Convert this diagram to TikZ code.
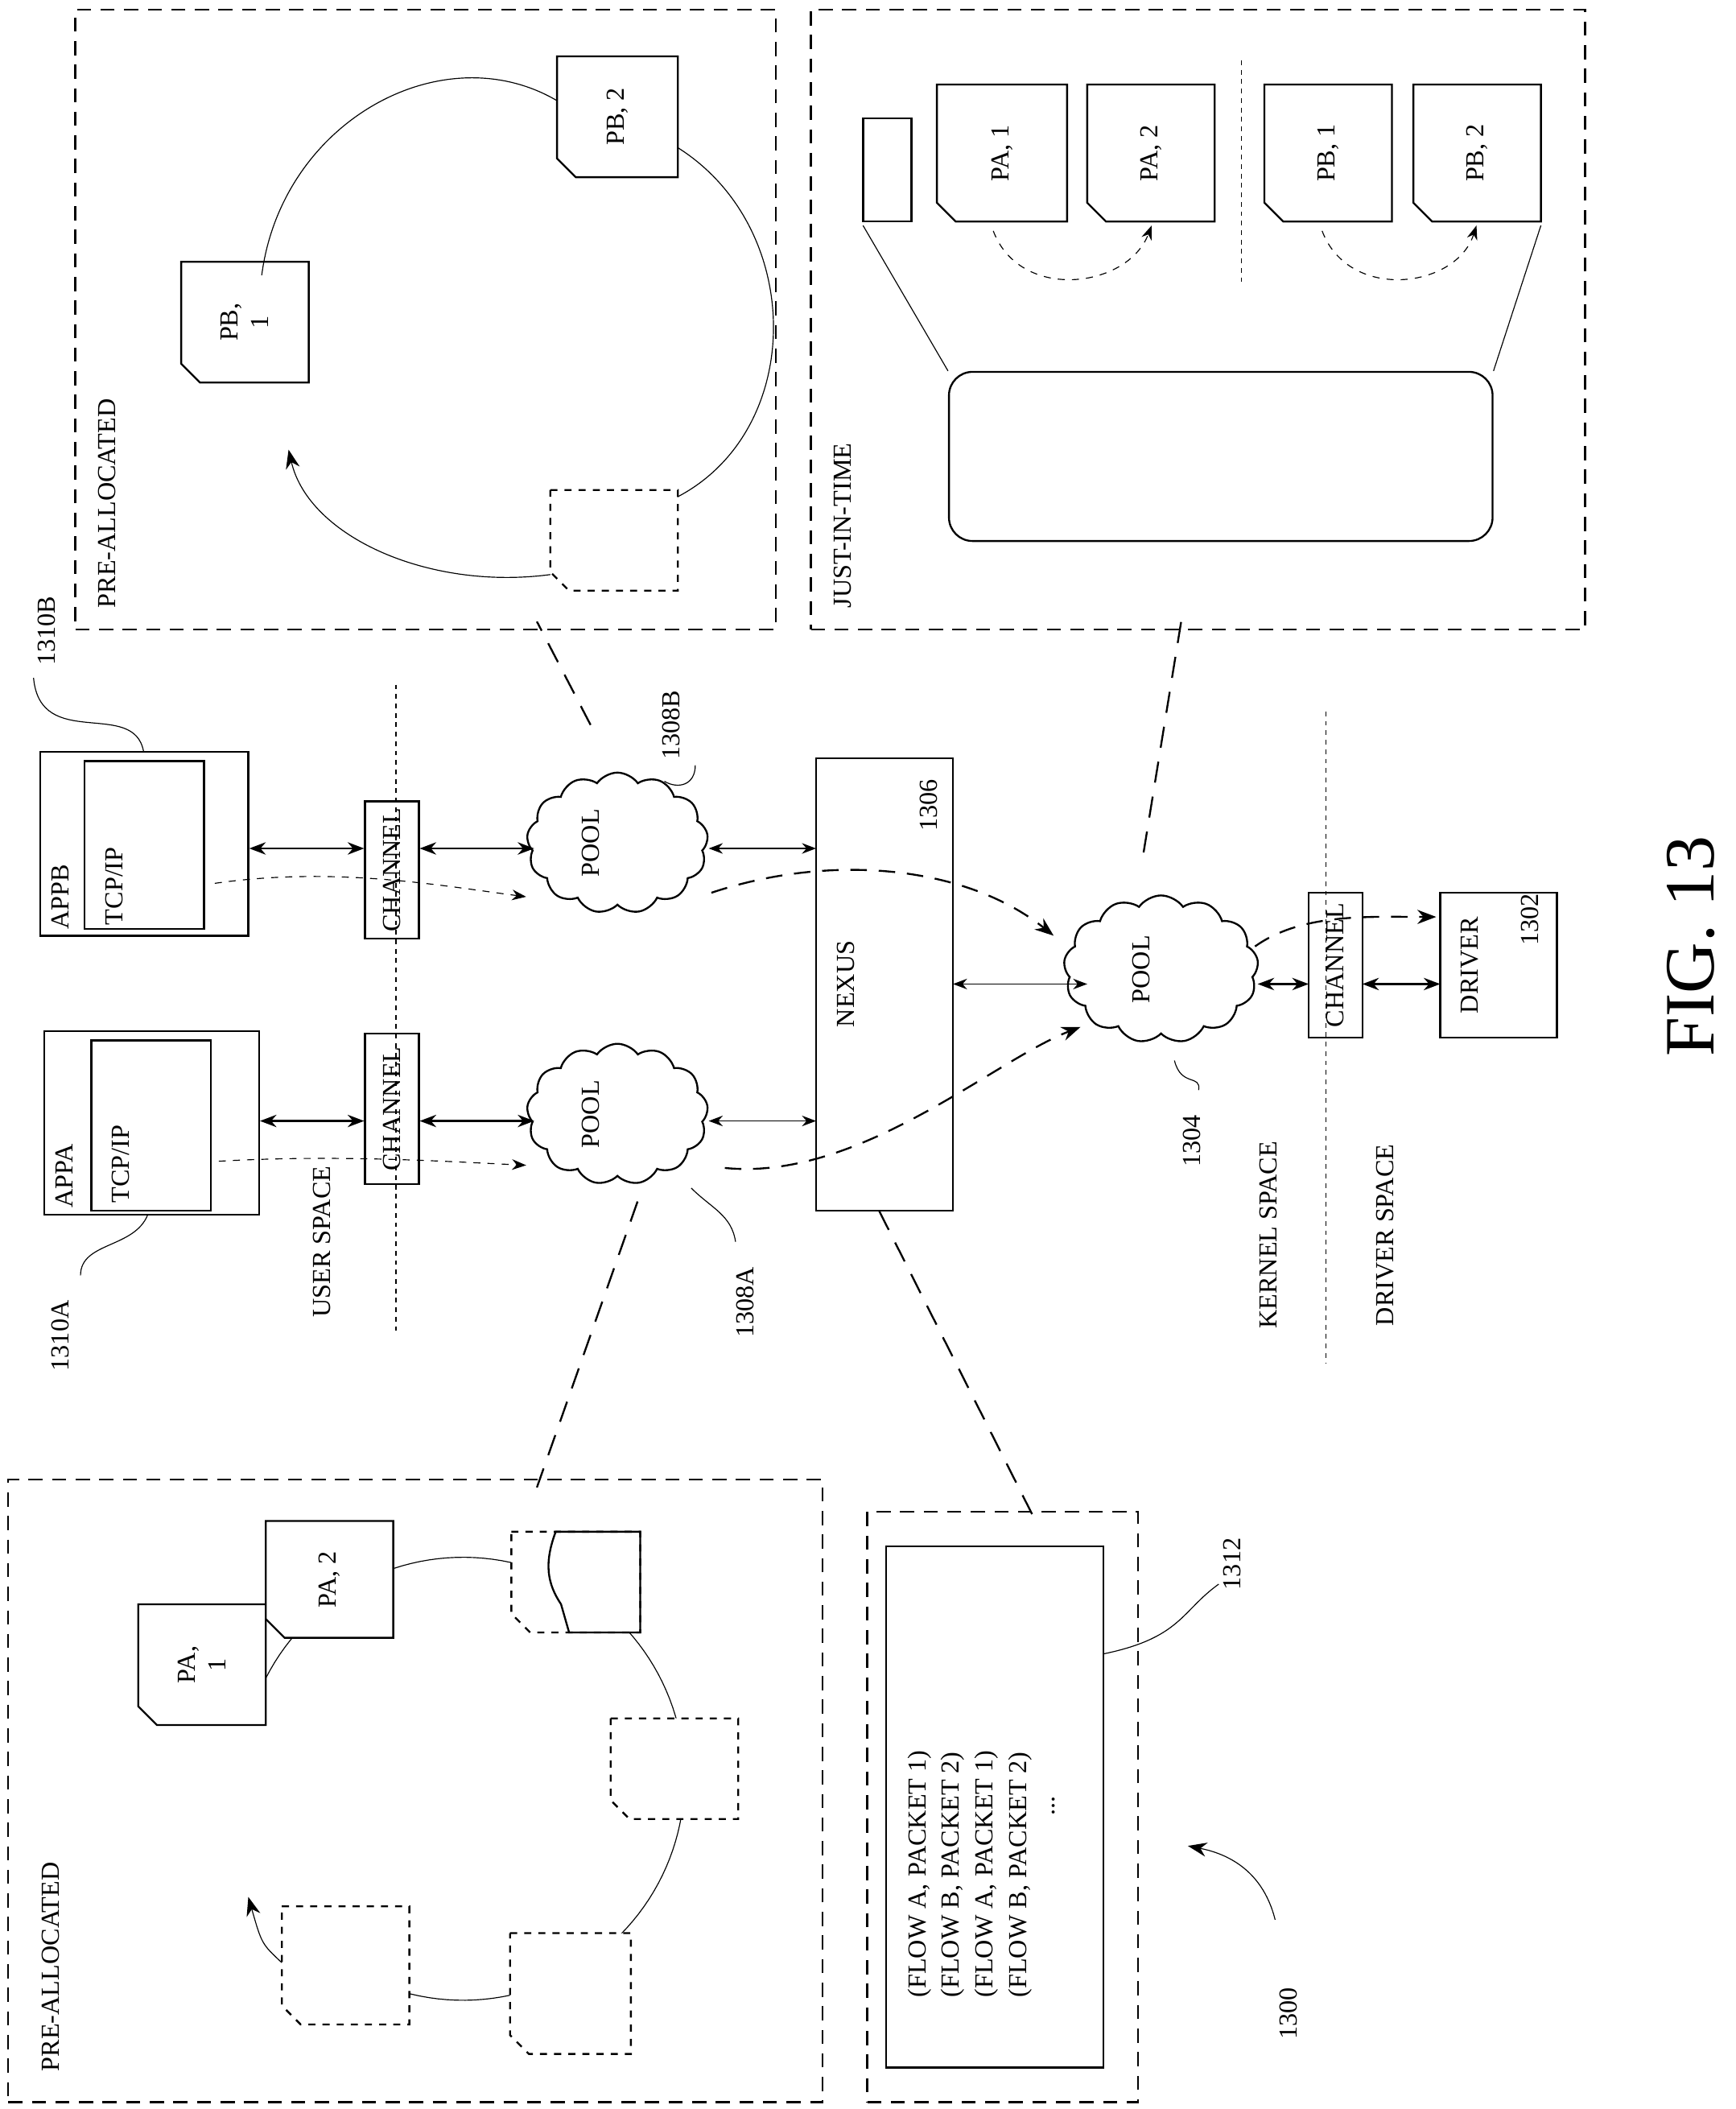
\documentclass[tikz,border=0pt]{standalone}
\usepackage{fontspec}
\setmainfont{Liberation Serif}
\usetikzlibrary{positioning,arrows.meta,shapes.symbols,fit,calc}

\newcommand\pg[6]{% x1 y1 x2 y2 style label
  \draw[#5] (#1,#2) -- (#3,#2) -- (#3,#4) -- ({#1+14},#4) -- (#1,{#4-14}) -- cycle;
  \node[txt, align=center] at ({(#1+#3)/2},{(#2+#4)/2}) {#6};}

\begin{document}
\begin{tikzpicture}[x=0.02cm, y=-0.02cm,
  txt/.style={rotate=90, font=\fontsize{11}{13}\selectfont, inner sep=1pt},
  box/.style={draw, thick, inner sep=0pt},
  region/.style={draw, thick, dashed, dash pattern=on 6pt off 4pt},
  pool/.style={cloud, draw, thick, cloud puffs=13, cloud puff arc=110, aspect=1.3, minimum width=2.7cm, minimum height=2.1cm, inner sep=0pt},
  both/.style={{Stealth[length=7pt]}-{Stealth[length=7pt]}, thick},
  thin both/.style={{Stealth[length=6pt]}-{Stealth[length=6pt]}},
  flow/.style={-{Stealth[length=8pt]}, thick, dashed, dash pattern=on 7pt off 5pt},
  small flow/.style={-{Stealth[length=6pt]}, dashed},
  link/.style={thick, dashed, dash pattern=on 9pt off 6pt},
  divider/.style={dash pattern=on 2pt off 2pt}
]
\useasboundingbox (0,0) rectangle (1293,1571);

% === Regions ===
\node[region, fit={(62,13)(572,463)}] (preB) {};
\node[txt, anchor=west] at (80,455) {PRE-ALLOCATED};
\node[region, fit={(610,13)(1175,463)}] (jit) {};
\node[txt, anchor=west] at (628,455) {JUST-IN-TIME};
\node[region, fit={(12,1108)(607,1560)}] (preA) {};
\node[txt, anchor=west] at (38,1545) {PRE-ALLOCATED};
\node[region, fit={(652,1132)(842,1560)}] (log) {};

% === Pre-allocated B ring ===
\draw (415,75) .. controls (330,25) and (210,90) .. (195,205);
\draw (505,110) .. controls (600,170) and (600,320) .. (505,370);
\draw[-{Stealth[length=8pt]}] (410,428) .. controls (320,440) and (230,400) .. (215,335);
\pg{415}{42}{505}{132}{thick}{PB, 2}
\pg{135}{195}{230}{285}{thick}{PB,\\1}
\pg{410}{365}{505}{440}{thick, dashed}{}

% === Pre-allocated A ring ===
\draw plot[domain=200:480, samples=120] ({345+165*cos(\x)},{1325+165*sin(\x)});
\pg{103}{1195}{198}{1285}{thick, fill=white}{PA,\\1}
\pg{198}{1133}{293}{1220}{thick, fill=white}{PA, 2}
\pg{381}{1141}{477}{1216}{thick, dashed, fill=white}{}
\draw[thick] (414,1141) .. controls (405,1165) and (408,1180) .. (418,1195) -- (424,1216) -- (477,1216) -- (477,1141) -- cycle;
\pg{455}{1280}{550}{1355}{thick, dashed, fill=white}{}
\pg{380}{1440}{470}{1530}{thick, dashed, fill=white}{}
\pg{210}{1420}{305}{1508}{thick, dashed, fill=white}{}
\draw[-{Stealth[length=8pt]}] (210,1462) .. controls (195,1448) .. (185,1413);

% === Just-in-time ===
\node[box, fit={(643,88)(679,165)}] (hdr) {};
\pg{698}{63}{795}{165}{thick}{PA, 1}
\pg{810}{63}{905}{165}{thick}{PA, 2}
\pg{942}{63}{1037}{165}{thick}{PB, 1}
\pg{1053}{63}{1148}{165}{thick}{PB, 2}
\draw[divider] (925,45) -- (925,212);
\draw[small flow] (740,172) .. controls (760,225) and (840,215) .. (858,168);
\draw[small flow] (985,172) .. controls (1005,225) and (1085,215) .. (1100,168);
\node[draw, thick, rounded corners=10pt, fit={(707,277)(1112,403)}, inner sep=0pt] (buf) {};
\draw (643,168) -- (buf.north west);
\draw (1148,168) -- (buf.north east);

% === User space ===
\node[box, fit={(30,560)(185,697)}] (appB) {};
\node[box, fit={(63,567)(152,692)}] (tcpB) {};
\node[txt] at (45,668) {APPB};
\node[txt] at (85,660) {TCP/IP};
\node[box, fit={(33,768)(193,905)}] (appA) {};
\node[box, fit={(68,775)(157,902)}] (tcpA) {};
\node[txt] at (48,876) {APPA};
\node[txt] at (90,867) {TCP/IP};
\node[box, fit={(272,597)(312,699)}] (chB) {};
\node[txt] at (292,648) {CHANNEL};
\node[box, fit={(272,770)(312,882)}] (chA) {};
\node[txt] at (292,826) {CHANNEL};
\node[pool] (poolB) at (460,628) {};
\node[txt] at (440,628) {POOL};
\node[pool] (poolA) at (460,830) {};
\node[txt] at (440,830) {POOL};
\draw[divider] (295,510) -- (295,992);
\node[txt] at (240,925) {USER  SPACE};

\node[txt] at (35,470) {1310B};
\draw (25,505) .. controls (30,560) and (100,520) .. (107,560);
\node[txt] at (45,995) {1310A};
\draw (60,950) .. controls (60,925) and (100,930) .. (110,905);
\node[txt] at (500,540) {1308B};
\draw (518,570) .. controls (518,585) and (505,588) .. (495,582);
\node[txt] at (555,970) {1308A};
\draw (515,885) .. controls (530,900) and (545,905) .. (548,925);

\draw[both] (appB.east |- 0,632) -- (chB.west |- 0,632);
\draw[both] (chB.east |- 0,632) -- (398,632);
\draw[thin both] (528,632) -- (608,632);
\draw[both] (appA.east |- 0,835) -- (chA.west |- 0,835);
\draw[both] (chA.east |- 0,835) -- (398,835);
\draw[thin both] (528,835) -- (608,835);
\draw[small flow] (160,658) .. controls (250,645) and (330,660) .. (392,668);
\draw[small flow] (163,865) .. controls (250,860) and (330,865) .. (392,868);

% === Kernel / driver ===
\node[box, fit={(608,565)(710,902)}] (nexus) {};
\node[txt] at (630,733) {NEXUS};
\node[txt] at (692,600) {1306};
\node[pool, minimum width=2.9cm, minimum height=2.2cm] (pool) at (865,722) {};
\node[txt] at (850,722) {POOL};
\node[txt] at (888,850) {1304};
\draw (875,790) .. controls (880,810) and (895,800) .. (893,812);
\draw[thin both] (710,733) -- (810,733);
\node[box, fit={(975,665)(1015,773)}] (chK) {};
\node[txt] at (995,719) {CHANNEL};
\node[box, fit={(1073,665)(1160,773)}] (drv) {};
\node[txt] at (1095,719) {DRIVER};
\node[txt] at (1140,685) {1302};
\draw[both] (937,733) -- (975,733);
\draw[both] (1015,733) -- (1073,733);
\draw[divider] (988,530) -- (988,1015);
\node[txt] at (945,920) {KERNEL SPACE};
\node[txt] at (1032,920) {DRIVER SPACE};

\draw[flow] (530,665) .. controls (620,635) and (720,645) .. (785,697);
\draw[flow] (540,870) .. controls (640,880) and (740,790) .. (805,765);
\draw[flow] (935,705) .. controls (970,680) and (1020,683) .. (1070,683);

% === Region links ===
\draw[link] (440,540) -- (400,463);
\draw[link] (852,635) -- (880,463);
\draw[link] (475,895) -- (400,1108);
\draw[link] (655,902) -- (770,1130);

% === Flow log ===
\node[box, fit={(660,1152)(822,1540)}] (tbl) {};
\foreach \i/\t in {0/{(FLOW A, PACKET 1)},1/{(FLOW B, PACKET 2)},2/{(FLOW A, PACKET 1)},3/{(FLOW B, PACKET 2)}}
  \node[txt, anchor=west] at (685+25*\i,1490) {\t};
\node[txt] at (785,1345) {...};
\node[txt] at (918,1165) {1312};
\draw (822,1232) .. controls (880,1220) and (880,1200) .. (908,1180);
\node[txt] at (960,1500) {1300};
\draw[-{Stealth[length=8pt]}] (950,1430) .. controls (940,1390) and (910,1380) .. (885,1375);

\node[rotate=90, font=\fontsize{30}{36}\selectfont] (fig) at (1260,705) {FIG. 13};
\end{tikzpicture}
\end{document}
